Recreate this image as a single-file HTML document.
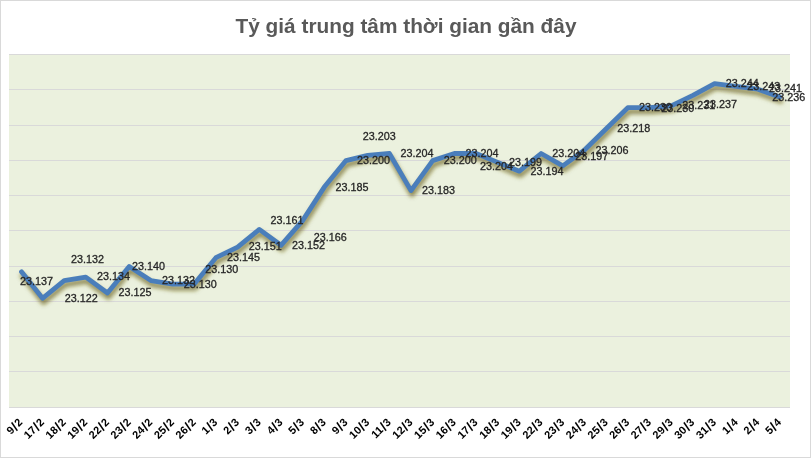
<!DOCTYPE html>
<html lang="vi"><head><meta charset="utf-8"><title>Tỷ giá trung tâm thời gian gần đây</title>
<style>
html,body{margin:0;padding:0;background:#fff;}
body{width:811px;height:458px;overflow:hidden;font-family:"Liberation Sans",sans-serif;}
svg{display:block}
.t{font-family:"Liberation Sans",sans-serif;font-weight:bold;font-size:21px;fill:#595959}
.d{font-family:"Liberation Sans",sans-serif;font-size:11px;fill:#262626;stroke:#262626;stroke-width:0.3px}
.a{font-family:"Liberation Sans",sans-serif;font-weight:bold;font-size:11px;fill:#000}
</style></head><body>
<svg width="811" height="458" viewBox="0 0 811 458">
<defs><filter id="sh" x="-5%" y="-10%" width="110%" height="120%"><feGaussianBlur in="SourceAlpha" stdDeviation="2.1"/><feOffset dx="1.4" dy="3.9" result="b"/><feFlood flood-color="#665c14" flood-opacity="0.72"/><feComposite operator="in" in2="b"/></filter></defs>
<rect x="0" y="0" width="811" height="458" fill="#fff"/>
<rect x="0.5" y="0.5" width="810" height="457" fill="none" stroke="#d9d9d9"/>
<rect x="9" y="54" width="781" height="354" fill="#ebf1de"/>
<rect x="9" y="54" width="781" height="1" fill="#d9d9d9" shape-rendering="crispEdges"/>
<rect x="9" y="89" width="781" height="1" fill="#d9d9d9" shape-rendering="crispEdges"/>
<rect x="9" y="125" width="781" height="1" fill="#d9d9d9" shape-rendering="crispEdges"/>
<rect x="9" y="160" width="781" height="1" fill="#d9d9d9" shape-rendering="crispEdges"/>
<rect x="9" y="195" width="781" height="1" fill="#d9d9d9" shape-rendering="crispEdges"/>
<rect x="9" y="230" width="781" height="1" fill="#d9d9d9" shape-rendering="crispEdges"/>
<rect x="9" y="266" width="781" height="1" fill="#d9d9d9" shape-rendering="crispEdges"/>
<rect x="9" y="301" width="781" height="1" fill="#d9d9d9" shape-rendering="crispEdges"/>
<rect x="9" y="336" width="781" height="1" fill="#d9d9d9" shape-rendering="crispEdges"/>
<rect x="9" y="371" width="781" height="1" fill="#d9d9d9" shape-rendering="crispEdges"/>
<rect x="9" y="407" width="781" height="1" fill="#d9d9d9" shape-rendering="crispEdges"/>
<text class="t" x="406" y="32.6" text-anchor="middle" textLength="341" lengthAdjust="spacingAndGlyphs">Tỷ giá trung tâm thời gian gần đây</text>
<polyline points="21.5,271.8 42.5,298.3 64.2,280.6 85.8,277.1 107.5,293.0 129.2,266.5 150.9,280.6 172.6,284.1 194.2,284.1 215.9,257.7 237.6,247.1 259.3,229.4 281.0,245.3 302.6,220.6 324.3,187.1 346.0,160.6 367.7,155.3 389.4,153.5 411.0,190.6 432.7,160.6 454.4,153.5 476.1,153.5 497.8,162.4 519.4,171.2 541.1,153.5 562.8,165.9 584.5,150.0 606.2,128.8 627.8,107.7 649.5,107.7 671.2,105.9 692.9,95.3 714.6,83.6 736.2,86.4 757.9,89.2 779.6,97.1" fill="none" stroke="#000" stroke-width="4.8" stroke-linejoin="round" stroke-linecap="round" filter="url(#sh)"/>
<polyline points="21.5,271.8 42.5,298.3 64.2,280.6 85.8,277.1 107.5,293.0 129.2,266.5 150.9,280.6 172.6,284.1 194.2,284.1 215.9,257.7 237.6,247.1 259.3,229.4 281.0,245.3 302.6,220.6 324.3,187.1 346.0,160.6 367.7,155.3 389.4,153.5 411.0,190.6 432.7,160.6 454.4,153.5 476.1,153.5 497.8,162.4 519.4,171.2 541.1,153.5 562.8,165.9 584.5,150.0 606.2,128.8 627.8,107.7 649.5,107.7 671.2,105.9 692.9,95.3 714.6,83.6 736.2,86.4 757.9,89.2 779.6,97.1" fill="none" stroke="#4a7ebb" stroke-width="4.8" stroke-linejoin="round" stroke-linecap="round"/>
<text class="d" x="20.0" y="285" textLength="33" lengthAdjust="spacingAndGlyphs">23.137</text>
<text class="d" x="64.7" y="302" textLength="33" lengthAdjust="spacingAndGlyphs">23.122</text>
<text class="d" x="71.0" y="263" textLength="33" lengthAdjust="spacingAndGlyphs">23.132</text>
<text class="d" x="96.9" y="280" textLength="33" lengthAdjust="spacingAndGlyphs">23.134</text>
<text class="d" x="118.6" y="296" textLength="33" lengthAdjust="spacingAndGlyphs">23.125</text>
<text class="d" x="132.1" y="270" textLength="33" lengthAdjust="spacingAndGlyphs">23.140</text>
<text class="d" x="162.0" y="284" textLength="33" lengthAdjust="spacingAndGlyphs">23.132</text>
<text class="d" x="183.7" y="288" textLength="33" lengthAdjust="spacingAndGlyphs">23.130</text>
<text class="d" x="205.3" y="273" textLength="33" lengthAdjust="spacingAndGlyphs">23.130</text>
<text class="d" x="227.0" y="261" textLength="33" lengthAdjust="spacingAndGlyphs">23.145</text>
<text class="d" x="248.7" y="250" textLength="33" lengthAdjust="spacingAndGlyphs">23.151</text>
<text class="d" x="270.4" y="224" textLength="33" lengthAdjust="spacingAndGlyphs">23.161</text>
<text class="d" x="292.1" y="249" textLength="33" lengthAdjust="spacingAndGlyphs">23.152</text>
<text class="d" x="313.7" y="241" textLength="33" lengthAdjust="spacingAndGlyphs">23.166</text>
<text class="d" x="335.4" y="191" textLength="33" lengthAdjust="spacingAndGlyphs">23.185</text>
<text class="d" x="357.1" y="164" textLength="33" lengthAdjust="spacingAndGlyphs">23.200</text>
<text class="d" x="362.8" y="140" textLength="33" lengthAdjust="spacingAndGlyphs">23.203</text>
<text class="d" x="400.5" y="157" textLength="33" lengthAdjust="spacingAndGlyphs">23.204</text>
<text class="d" x="422.1" y="194" textLength="33" lengthAdjust="spacingAndGlyphs">23.183</text>
<text class="d" x="443.8" y="164" textLength="33" lengthAdjust="spacingAndGlyphs">23.200</text>
<text class="d" x="465.5" y="157" textLength="33" lengthAdjust="spacingAndGlyphs">23.204</text>
<text class="d" x="480.1" y="170" textLength="33" lengthAdjust="spacingAndGlyphs">23.204</text>
<text class="d" x="508.9" y="166" textLength="33" lengthAdjust="spacingAndGlyphs">23.199</text>
<text class="d" x="530.5" y="175" textLength="33" lengthAdjust="spacingAndGlyphs">23.194</text>
<text class="d" x="552.2" y="157" textLength="33" lengthAdjust="spacingAndGlyphs">23.204</text>
<text class="d" x="575.2" y="160" textLength="33" lengthAdjust="spacingAndGlyphs">23.197</text>
<text class="d" x="595.6" y="154" textLength="33" lengthAdjust="spacingAndGlyphs">23.206</text>
<text class="d" x="617.3" y="132" textLength="33" lengthAdjust="spacingAndGlyphs">23.218</text>
<text class="d" x="638.9" y="111" textLength="33" lengthAdjust="spacingAndGlyphs">23.230</text>
<text class="d" x="661.3" y="112" textLength="33" lengthAdjust="spacingAndGlyphs">23.230</text>
<text class="d" x="682.3" y="109" textLength="33" lengthAdjust="spacingAndGlyphs">23.231</text>
<text class="d" x="704.0" y="108" textLength="33" lengthAdjust="spacingAndGlyphs">23.237</text>
<text class="d" x="725.7" y="87" textLength="33" lengthAdjust="spacingAndGlyphs">23.244</text>
<text class="d" x="747.3" y="90" textLength="33" lengthAdjust="spacingAndGlyphs">23.243</text>
<text class="d" x="769.0" y="92" textLength="33" lengthAdjust="spacingAndGlyphs">23.241</text>
<text class="d" x="772.3" y="101" textLength="33" lengthAdjust="spacingAndGlyphs">23.236</text>
<text class="a" transform="translate(23.1,423.0) rotate(-45)" text-anchor="end">9<tspan dx="0.55" dy="1.2" font-size="13.5">/</tspan><tspan dx="0.55" dy="-1.2">2</tspan></text>
<text class="a" transform="translate(44.8,423.0) rotate(-45)" text-anchor="end">17<tspan dx="0.55" dy="1.2" font-size="13.5">/</tspan><tspan dx="0.55" dy="-1.2">2</tspan></text>
<text class="a" transform="translate(66.5,423.0) rotate(-45)" text-anchor="end">18<tspan dx="0.55" dy="1.2" font-size="13.5">/</tspan><tspan dx="0.55" dy="-1.2">2</tspan></text>
<text class="a" transform="translate(88.1,423.0) rotate(-45)" text-anchor="end">19<tspan dx="0.55" dy="1.2" font-size="13.5">/</tspan><tspan dx="0.55" dy="-1.2">2</tspan></text>
<text class="a" transform="translate(109.8,423.0) rotate(-45)" text-anchor="end">22<tspan dx="0.55" dy="1.2" font-size="13.5">/</tspan><tspan dx="0.55" dy="-1.2">2</tspan></text>
<text class="a" transform="translate(131.5,423.0) rotate(-45)" text-anchor="end">23<tspan dx="0.55" dy="1.2" font-size="13.5">/</tspan><tspan dx="0.55" dy="-1.2">2</tspan></text>
<text class="a" transform="translate(153.2,423.0) rotate(-45)" text-anchor="end">24<tspan dx="0.55" dy="1.2" font-size="13.5">/</tspan><tspan dx="0.55" dy="-1.2">2</tspan></text>
<text class="a" transform="translate(174.9,423.0) rotate(-45)" text-anchor="end">25<tspan dx="0.55" dy="1.2" font-size="13.5">/</tspan><tspan dx="0.55" dy="-1.2">2</tspan></text>
<text class="a" transform="translate(196.5,423.0) rotate(-45)" text-anchor="end">26<tspan dx="0.55" dy="1.2" font-size="13.5">/</tspan><tspan dx="0.55" dy="-1.2">2</tspan></text>
<text class="a" transform="translate(218.2,423.0) rotate(-45)" text-anchor="end">1<tspan dx="0.55" dy="1.2" font-size="13.5">/</tspan><tspan dx="0.55" dy="-1.2">3</tspan></text>
<text class="a" transform="translate(239.9,423.0) rotate(-45)" text-anchor="end">2<tspan dx="0.55" dy="1.2" font-size="13.5">/</tspan><tspan dx="0.55" dy="-1.2">3</tspan></text>
<text class="a" transform="translate(261.6,423.0) rotate(-45)" text-anchor="end">3<tspan dx="0.55" dy="1.2" font-size="13.5">/</tspan><tspan dx="0.55" dy="-1.2">3</tspan></text>
<text class="a" transform="translate(283.3,423.0) rotate(-45)" text-anchor="end">4<tspan dx="0.55" dy="1.2" font-size="13.5">/</tspan><tspan dx="0.55" dy="-1.2">3</tspan></text>
<text class="a" transform="translate(304.9,423.0) rotate(-45)" text-anchor="end">5<tspan dx="0.55" dy="1.2" font-size="13.5">/</tspan><tspan dx="0.55" dy="-1.2">3</tspan></text>
<text class="a" transform="translate(326.6,423.0) rotate(-45)" text-anchor="end">8<tspan dx="0.55" dy="1.2" font-size="13.5">/</tspan><tspan dx="0.55" dy="-1.2">3</tspan></text>
<text class="a" transform="translate(348.3,423.0) rotate(-45)" text-anchor="end">9<tspan dx="0.55" dy="1.2" font-size="13.5">/</tspan><tspan dx="0.55" dy="-1.2">3</tspan></text>
<text class="a" transform="translate(370.0,423.0) rotate(-45)" text-anchor="end">10<tspan dx="0.55" dy="1.2" font-size="13.5">/</tspan><tspan dx="0.55" dy="-1.2">3</tspan></text>
<text class="a" transform="translate(391.7,423.0) rotate(-45)" text-anchor="end">11<tspan dx="0.55" dy="1.2" font-size="13.5">/</tspan><tspan dx="0.55" dy="-1.2">3</tspan></text>
<text class="a" transform="translate(413.3,423.0) rotate(-45)" text-anchor="end">12<tspan dx="0.55" dy="1.2" font-size="13.5">/</tspan><tspan dx="0.55" dy="-1.2">3</tspan></text>
<text class="a" transform="translate(435.0,423.0) rotate(-45)" text-anchor="end">15<tspan dx="0.55" dy="1.2" font-size="13.5">/</tspan><tspan dx="0.55" dy="-1.2">3</tspan></text>
<text class="a" transform="translate(456.7,423.0) rotate(-45)" text-anchor="end">16<tspan dx="0.55" dy="1.2" font-size="13.5">/</tspan><tspan dx="0.55" dy="-1.2">3</tspan></text>
<text class="a" transform="translate(478.4,423.0) rotate(-45)" text-anchor="end">17<tspan dx="0.55" dy="1.2" font-size="13.5">/</tspan><tspan dx="0.55" dy="-1.2">3</tspan></text>
<text class="a" transform="translate(500.1,423.0) rotate(-45)" text-anchor="end">18<tspan dx="0.55" dy="1.2" font-size="13.5">/</tspan><tspan dx="0.55" dy="-1.2">3</tspan></text>
<text class="a" transform="translate(521.7,423.0) rotate(-45)" text-anchor="end">19<tspan dx="0.55" dy="1.2" font-size="13.5">/</tspan><tspan dx="0.55" dy="-1.2">3</tspan></text>
<text class="a" transform="translate(543.4,423.0) rotate(-45)" text-anchor="end">22<tspan dx="0.55" dy="1.2" font-size="13.5">/</tspan><tspan dx="0.55" dy="-1.2">3</tspan></text>
<text class="a" transform="translate(565.1,423.0) rotate(-45)" text-anchor="end">23<tspan dx="0.55" dy="1.2" font-size="13.5">/</tspan><tspan dx="0.55" dy="-1.2">3</tspan></text>
<text class="a" transform="translate(586.8,423.0) rotate(-45)" text-anchor="end">24<tspan dx="0.55" dy="1.2" font-size="13.5">/</tspan><tspan dx="0.55" dy="-1.2">3</tspan></text>
<text class="a" transform="translate(608.5,423.0) rotate(-45)" text-anchor="end">25<tspan dx="0.55" dy="1.2" font-size="13.5">/</tspan><tspan dx="0.55" dy="-1.2">3</tspan></text>
<text class="a" transform="translate(630.1,423.0) rotate(-45)" text-anchor="end">26<tspan dx="0.55" dy="1.2" font-size="13.5">/</tspan><tspan dx="0.55" dy="-1.2">3</tspan></text>
<text class="a" transform="translate(651.8,423.0) rotate(-45)" text-anchor="end">27<tspan dx="0.55" dy="1.2" font-size="13.5">/</tspan><tspan dx="0.55" dy="-1.2">3</tspan></text>
<text class="a" transform="translate(673.5,423.0) rotate(-45)" text-anchor="end">29<tspan dx="0.55" dy="1.2" font-size="13.5">/</tspan><tspan dx="0.55" dy="-1.2">3</tspan></text>
<text class="a" transform="translate(695.2,423.0) rotate(-45)" text-anchor="end">30<tspan dx="0.55" dy="1.2" font-size="13.5">/</tspan><tspan dx="0.55" dy="-1.2">3</tspan></text>
<text class="a" transform="translate(716.9,423.0) rotate(-45)" text-anchor="end">31<tspan dx="0.55" dy="1.2" font-size="13.5">/</tspan><tspan dx="0.55" dy="-1.2">3</tspan></text>
<text class="a" transform="translate(738.5,423.0) rotate(-45)" text-anchor="end">1<tspan dx="0.55" dy="1.2" font-size="13.5">/</tspan><tspan dx="0.55" dy="-1.2">4</tspan></text>
<text class="a" transform="translate(760.2,423.0) rotate(-45)" text-anchor="end">2<tspan dx="0.55" dy="1.2" font-size="13.5">/</tspan><tspan dx="0.55" dy="-1.2">4</tspan></text>
<text class="a" transform="translate(781.9,423.0) rotate(-45)" text-anchor="end">5<tspan dx="0.55" dy="1.2" font-size="13.5">/</tspan><tspan dx="0.55" dy="-1.2">4</tspan></text>
</svg></body></html>
